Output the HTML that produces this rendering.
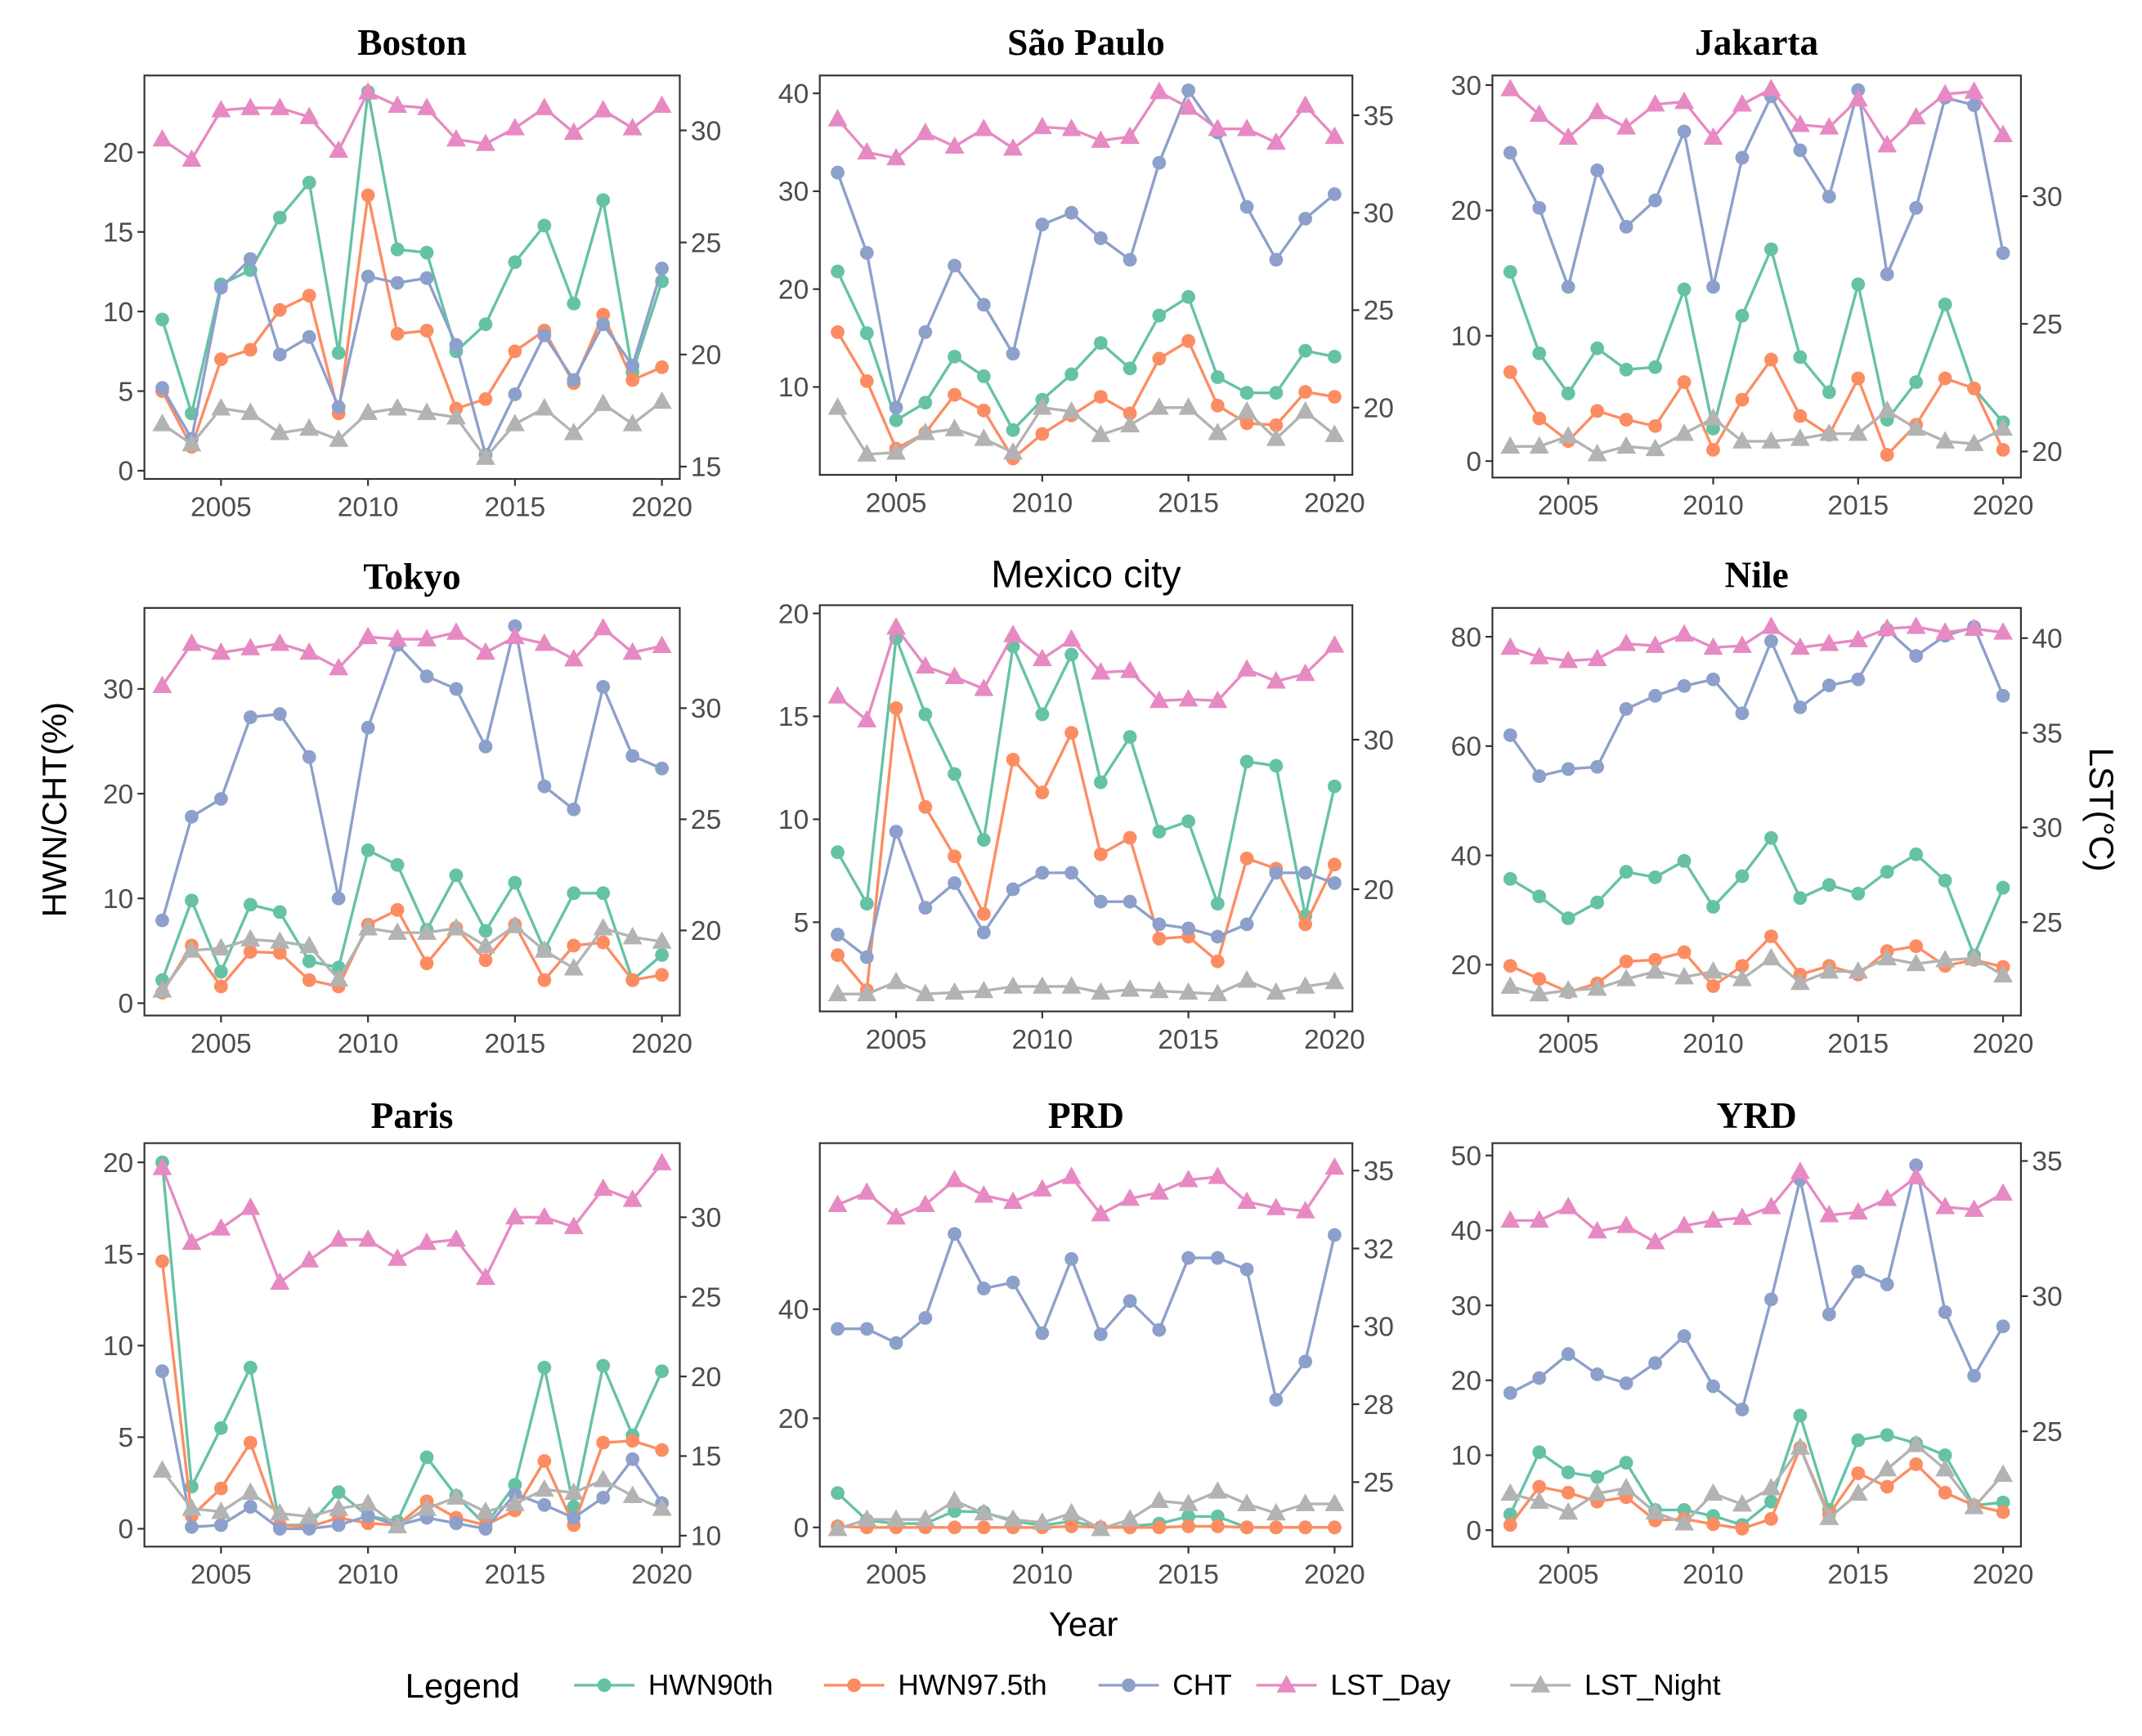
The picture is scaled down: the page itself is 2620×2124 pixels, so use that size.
<!DOCTYPE html>
<html><head><meta charset="utf-8"><style>
html,body{margin:0;padding:0;background:#fff;}
svg{display:block;}
text{font-family:"Liberation Sans",sans-serif;}
</style></head><body>
<svg id="chart" xmlns="http://www.w3.org/2000/svg" width="2620" height="2124" viewBox="0 0 1560 1265"></svg>
<script>
const years = [2003,2004,2005,2006,2007,2008,2009,2010,2011,2012,2013,2014,2015,2016,2017,2018,2019,2020];
const seriesNames = ["HWN90th","HWN97.5th","CHT","LST_Day","LST_Night"];
const xTickYears = [2005,2010,2015,2020];

const bostonHWN90 = [9.5,3.6,11.7,12.6,15.9,18.1,7.4,23.8,13.9,13.7,7.5,9.2,13.1,15.4,10.5,17.0,6.2,11.9];
const bostonHWN975 = [5.0,1.5,7.0,7.6,10.1,11.0,3.6,17.3,8.6,8.8,3.9,4.5,7.5,8.8,5.5,9.8,5.7,6.5];
const bostonCHT = [5.2,2.0,11.5,13.3,7.3,8.4,4.0,12.2,11.8,12.1,7.9,1.0,4.8,8.5,5.7,9.2,6.6,12.7];
const bostonDay = [29.6,28.7,30.9,31.0,31.0,30.6,29.1,31.7,31.1,31.0,29.6,29.4,30.1,31.0,29.9,30.9,30.1,31.1];
const bostonNight = [16.9,16.0,17.6,17.4,16.5,16.7,16.2,17.4,17.6,17.4,17.2,15.4,16.9,17.6,16.5,17.8,16.9,17.9];

const spHWN90 = [21.8,15.5,6.6,8.4,13.1,11.1,5.6,8.7,11.3,14.5,11.9,17.3,19.2,11.0,9.4,9.4,13.7,13.1];
const spHWN975 = [15.6,10.6,3.7,5.3,9.2,7.6,2.7,5.2,7.1,9.0,7.3,12.9,14.7,8.1,6.3,6.1,9.5,9.0];
const spCHT = [31.9,23.7,7.9,15.6,22.4,18.4,13.4,26.6,27.8,25.2,23.0,32.9,40.3,36.0,28.4,23.0,27.2,29.7];
const spDay = [34.8,33.1,32.8,34.1,33.4,34.3,33.3,34.4,34.3,33.7,33.9,36.2,35.4,34.3,34.3,33.6,35.5,33.9];
const spNight = [20.0,17.6,17.7,18.7,18.9,18.4,17.7,20.0,19.8,18.6,19.1,20.0,20.0,18.7,19.8,18.4,19.8,18.6];

const jkHWN90 = [15.1,8.6,5.4,9.0,7.3,7.5,13.7,2.6,11.6,16.9,8.3,5.5,14.1,3.3,6.3,12.5,5.8,3.1];
const jkHWN975 = [7.1,3.4,1.6,4.0,3.3,2.8,6.3,0.9,4.9,8.1,3.6,2.1,6.6,0.5,2.9,6.6,5.8,0.9];
const jkCHT = [24.6,20.2,13.9,23.2,18.7,20.8,26.3,13.9,24.2,29.1,24.8,21.1,29.6,14.9,20.2,29.0,28.4,16.6];
const jkDay = [34.2,33.2,32.3,33.3,32.7,33.6,33.7,32.3,33.6,34.2,32.8,32.7,33.8,32.0,33.1,34.0,34.1,32.4];
const jkNight = [20.2,20.2,20.6,19.9,20.2,20.1,20.7,21.3,20.4,20.4,20.5,20.7,20.7,21.6,20.9,20.4,20.3,20.9];

const tkHWN90 = [2.2,9.8,3.0,9.4,8.7,4.0,3.4,14.6,13.2,7.0,12.2,6.9,11.5,5.1,10.5,10.5,2.2,4.6];
const tkHWN975 = [1.0,5.5,1.6,4.9,4.8,2.2,1.6,7.5,8.9,3.8,7.2,4.1,7.5,2.2,5.5,5.8,2.2,2.7];
const tkCHT = [7.9,17.8,19.5,27.3,27.6,23.5,10.0,26.3,34.2,31.2,30.0,24.5,36.0,20.7,18.5,30.2,23.6,22.4];
const tkDay = [31.0,32.9,32.5,32.7,32.9,32.5,31.8,33.2,33.1,33.1,33.4,32.5,33.2,32.9,32.2,33.6,32.5,32.8];
const tkNight = [17.3,19.1,19.2,19.6,19.5,19.3,17.8,20.1,19.9,19.9,20.1,19.3,20.2,19.1,18.3,20.1,19.7,19.5];

const mxHWN90 = [8.4,5.9,18.8,15.1,12.2,9.0,18.4,15.1,18.0,11.8,14.0,9.4,9.9,5.9,12.8,12.6,5.3,11.6];
const mxHWN975 = [3.4,1.7,15.4,10.6,8.2,5.4,12.9,11.3,14.2,8.3,9.1,4.2,4.3,3.1,8.1,7.6,4.9,7.8];
const mxCHT = [4.4,3.3,9.4,5.7,6.9,4.5,6.6,7.4,7.4,6.0,6.0,4.9,4.7,4.3,4.9,7.4,7.4,6.9];
const mxDay = [32.9,31.3,37.5,34.9,34.2,33.4,37.0,35.4,36.7,34.5,34.6,32.6,32.7,32.6,34.7,33.9,34.4,36.3];
const mxNight = [13.0,13.0,13.8,13.0,13.1,13.2,13.5,13.5,13.5,13.1,13.3,13.2,13.1,13.0,13.9,13.1,13.5,13.8];

const nlHWN90 = [35.7,32.5,28.5,31.4,37.0,36.0,39.0,30.6,36.2,43.2,32.2,34.6,33.0,37.0,40.2,35.4,21.7,34.1];
const nlHWN975 = [19.8,17.4,15.0,16.6,20.6,20.9,22.3,16.1,19.8,25.2,18.2,19.8,18.2,22.5,23.4,19.8,20.9,19.6];
const nlCHT = [62.0,54.5,55.8,56.2,66.8,69.2,71.0,72.2,66.0,79.2,67.1,71.1,72.2,81.3,76.5,80.2,81.8,69.2];
const nlDay = [39.5,39.0,38.8,38.9,39.7,39.6,40.2,39.5,39.6,40.6,39.5,39.7,39.9,40.5,40.6,40.3,40.5,40.3];
const nlNight = [21.6,21.2,21.4,21.5,22.0,22.4,22.1,22.4,22.0,23.1,21.8,22.4,22.4,23.1,22.8,23.0,23.1,22.2];

const prHWN90 = [20.0,2.3,5.5,8.8,0.2,0.2,2.0,0.7,0.4,3.9,1.8,0.2,2.4,8.8,1.2,8.9,5.1,8.6];
const prHWN975 = [14.6,0.7,2.2,4.7,0.2,0.1,0.6,0.3,0.2,1.5,0.6,0.2,1.0,3.7,0.2,4.7,4.8,4.3];
const prCHT = [8.6,0.1,0.2,1.2,0.0,0.0,0.2,0.7,0.2,0.6,0.3,0.0,1.9,1.3,0.6,1.7,3.8,1.4];
const prDay = [33.1,28.4,29.3,30.6,25.9,27.3,28.6,28.6,27.4,28.4,28.6,26.2,30.0,30.0,29.4,31.8,31.1,33.4];
const prNight = [14.1,11.7,11.5,12.7,11.4,11.2,11.7,12.0,10.6,11.7,12.4,11.5,12.0,12.9,12.7,13.5,12.5,11.7];

const pdHWN90 = [6.3,1.3,0.7,0.7,3.0,2.8,1.1,0.4,1.1,0,0.2,0.7,2.0,2.0,0,0,0,0];
const pdHWN975 = [0.2,0,0,0,0,0,0,0,0.2,0,0,0,0.2,0.2,0,0,0,0];
const pdCHT = [36.4,36.4,33.8,38.4,53.8,43.8,44.9,35.6,49.2,35.4,41.5,36.2,49.4,49.4,47.3,23.4,30.4,53.6];
const pdDay = [33.9,34.3,33.5,33.9,34.7,34.2,34.0,34.4,34.8,33.6,34.1,34.3,34.7,34.8,34.0,33.8,33.7,35.1];
const pdNight = [23.5,23.8,23.8,23.8,24.4,24.0,23.8,23.7,24.0,23.5,23.8,24.4,24.3,24.7,24.3,24.0,24.3,24.3];

const yrHWN90 = [2.1,10.4,7.7,7.1,9.0,2.7,2.7,1.9,0.7,3.8,15.3,2.7,12.0,12.7,11.6,10.0,3.3,3.7];
const yrHWN975 = [0.7,5.8,5.0,3.8,4.4,1.3,1.5,0.8,0.2,1.5,11.0,2.1,7.6,5.8,8.8,5.0,3.3,2.4];
const yrCHT = [18.3,20.3,23.5,20.8,19.6,22.3,25.9,19.2,16.1,30.8,46.8,28.8,34.5,32.8,48.7,29.1,20.6,27.2];
const yrDay = [32.8,32.8,33.3,32.4,32.6,32.0,32.6,32.8,32.9,33.3,34.6,33.0,33.1,33.6,34.4,33.3,33.2,33.8];
const yrNight = [22.7,22.4,22.0,22.7,22.9,22.0,21.6,22.7,22.3,22.9,24.4,21.8,22.7,23.6,24.5,23.6,22.2,23.4];

const bostonLeftTicks=[0,5,10,15,20], bostonRightTicks=[15,20,25,30];
const spLeftTicks=[10,20,30,40], spRightTicks=[20,25,30,35];
const jkLeftTicks=[0,10,20,30], jkRightTicks=[20,25,30];
const tkLeftTicks=[0,10,20,30], tkRightTicks=[20,25,30];
const mxLeftTicks=[5,10,15,20], mxRightTicks=[20,30];
const nlLeftTicks=[20,40,60,80], nlRightTicks=[25,30,35,40];
const prLeftTicks=[0,5,10,15,20], prRightTicks=[10,15,20,25,30];
const pdLeftTicks=[0,20,40], pdRightTicks=[25,27.5,30,32.5,35];
const pdRightLabels=["25","28","30","32","35"];
const yrLeftTicks=[0,10,20,30,40,50], yrRightTicks=[25,30,35];

const colors=["#66c2a5","#fc8d62","#8da0cb","#e78ac3","#b3b3b3"];
const NS="http://www.w3.org/2000/svg";
const svg=document.getElementById('chart');
function mk(tag,attrs,parent){const e=document.createElementNS(NS,tag);for(const k in attrs)e.setAttribute(k,attrs[k]);(parent||svg).appendChild(e);return e;}

const panels=[
 {name:"boston",title:"Boston",serif:true,x0:105,x1:495,y0:55,y1:349,L:[0,343,20,111],R:[15,340,30,95],lt:bostonLeftTicks,rt:bostonRightTicks,d:[bostonHWN90,bostonHWN975,bostonCHT,bostonDay,bostonNight],ty:40},
 {name:"sao-paulo",title:"São Paulo",serif:true,x0:597,x1:985,y0:55,y1:346,L:[10,282,40,68],R:[20,297,35,84],lt:spLeftTicks,rt:spRightTicks,d:[spHWN90,spHWN975,spCHT,spDay,spNight],ty:40},
 {name:"jakarta",title:"Jakarta",serif:true,x0:1087,x1:1472,y0:55,y1:348,L:[0,336,30,62],R:[20,329,30,143],lt:jkLeftTicks,rt:jkRightTicks,d:[jkHWN90,jkHWN975,jkCHT,jkDay,jkNight],ty:40},
 {name:"tokyo",title:"Tokyo",serif:true,x0:105,x1:495,y0:443,y1:740,L:[0,731,30,502],R:[20,678,30,516],lt:tkLeftTicks,rt:tkRightTicks,d:[tkHWN90,tkHWN975,tkCHT,tkDay,tkNight],ty:429},
 {name:"mexico-city",title:"Mexico city",serif:false,x0:597,x1:985,y0:441,y1:737,L:[5,672,20,447],R:[20,648,30,539],lt:mxLeftTicks,rt:mxRightTicks,d:[mxHWN90,mxHWN975,mxCHT,mxDay,mxNight],ty:428},
 {name:"nile",title:"Nile",serif:true,x0:1087,x1:1472,y0:443,y1:740,L:[20,703,80,464],R:[25,672,40,465],lt:nlLeftTicks,rt:nlRightTicks,d:[nlHWN90,nlHWN975,nlCHT,nlDay,nlNight],ty:428},
 {name:"paris",title:"Paris",serif:true,x0:105,x1:495,y0:833,y1:1127,L:[0,1114,20,847],R:[10,1119,30,887],lt:prLeftTicks,rt:prRightTicks,d:[prHWN90,prHWN975,prCHT,prDay,prNight],ty:822},
 {name:"prd",title:"PRD",serif:true,x0:597,x1:985,y0:833,y1:1127,L:[0,1113,40,954],R:[25,1080,35,853],lt:pdLeftTicks,rt:pdRightTicks,rl:pdRightLabels,d:[pdHWN90,pdHWN975,pdCHT,pdDay,pdNight],ty:822},
 {name:"yrd",title:"YRD",serif:true,x0:1087,x1:1472,y0:833,y1:1127,L:[0,1115,50,842],R:[25,1043,35,846],lt:yrLeftTicks,rt:yrRightTicks,d:[yrHWN90,yrHWN975,yrCHT,yrDay,yrNight],ty:822}
];

function lin(a){return v=>a[1]+(v-a[0])*(a[3]-a[1])/(a[2]-a[0]);}
function tri(g,x,y,r,c){return mk('polygon',{points:`${x},${y-r} ${x-r*0.95},${y+r*0.7} ${x+r*0.95},${y+r*0.7}`,fill:c},g);}

panels.forEach(p=>{
  const g=mk('g',{});
  
  
  const xs=yr=>p.x0+13+(yr-2003)*((p.x1-p.x0-26)/17);
  const yl=lin(p.L), yr=lin(p.R);
  const t=mk('text',{x:(p.x0+p.x1)/2,y:p.ty,'text-anchor':'middle','font-size':p.serif?27:28,'font-weight':p.serif?'bold':'normal',fill:'#000',style:p.serif?'font-family:"Liberation Serif",serif':''},g);
  t.textContent=p.title;
  
  
  const box=mk('rect',{x:p.x0,y:p.y0,width:p.x1-p.x0,height:p.y1-p.y0,fill:'none',stroke:'#333','stroke-width':1.3},g);
  
  
  p.lt.forEach(v=>{const y=yl(v);mk('line',{x1:p.x0-5,x2:p.x0,y1:y,y2:y,stroke:'#333','stroke-width':1.3},g);
    const tx=mk('text',{x:p.x0-8,y:y+7,'text-anchor':'end','font-size':20,fill:'#4d4d4d'},g);tx.textContent=v;
    
    });
  p.rt.forEach((v,i)=>{const y=yr(v);mk('line',{x1:p.x1,x2:p.x1+5,y1:y,y2:y,stroke:'#333','stroke-width':1.3},g);
    const tx=mk('text',{x:p.x1+8,y:y+7,'text-anchor':'start','font-size':20,fill:'#4d4d4d'},g);tx.textContent=p.rl?p.rl[i]:v;
    
    });
  xTickYears.forEach(v=>{const x=xs(v);mk('line',{x1:x,x2:x,y1:p.y1,y2:p.y1+5,stroke:'#333','stroke-width':1.3},g);
    const tx=mk('text',{x:x,y:p.y1+27,'text-anchor':'middle','font-size':20,fill:'#4d4d4d'},g);tx.textContent=v;
    
    });
  p.d.forEach((vals,si)=>{
    const sc=si<3?yl:yr;
    const pts=vals.map((v,i)=>[xs(years[i]),sc(v)]);
    const sg=mk('g',{},g);
    
    
    mk('polyline',{points:pts.map(q=>q.join(',')).join(' '),fill:'none',stroke:colors[si],'stroke-width':2},sg);
    pts.forEach(q=>{
      let m;
      if(si<3) m=mk('circle',{cx:q[0],cy:q[1],r:5,fill:colors[si]},sg);
      else m=tri(sg,q[0],q[1],7.5,colors[si]);
      
      
    });
  });
});

let at=mk('text',{x:0,y:0,transform:'translate(48,590) rotate(-90)','text-anchor':'middle','font-size':25,fill:'#000'});
at.textContent='HWN/CHT(%)';


at=mk('text',{x:0,y:0,transform:'translate(1522,590) rotate(90)','text-anchor':'middle','font-size':25,fill:'#000'});
at.textContent='LST(°C)';


at=mk('text',{x:789,y:1192,'text-anchor':'middle','font-size':25,fill:'#000'});
at.textContent='Year';



const lg=mk('g',{});


let lt=mk('text',{x:295,y:1237,'font-size':25,fill:'#000'},lg);
lt.textContent='Legend';


const legX=[418,600,800,915,1100];
seriesNames.forEach((n,i)=>{
  const eg=mk('g',{},lg);
  
  
  const x=legX[i];
  mk('line',{x1:x,x2:x+44,y1:1228,y2:1228,stroke:colors[i],'stroke-width':2},eg);
  if(i<3) mk('circle',{cx:x+22,cy:1228,r:5,fill:colors[i]},eg); else tri(eg,x+22,1228,7.5,colors[i]);
  const t=mk('text',{x:x+54,y:1235,'font-size':21,fill:'#000'},eg);
  t.textContent=n;
});
</script>
</body></html>
